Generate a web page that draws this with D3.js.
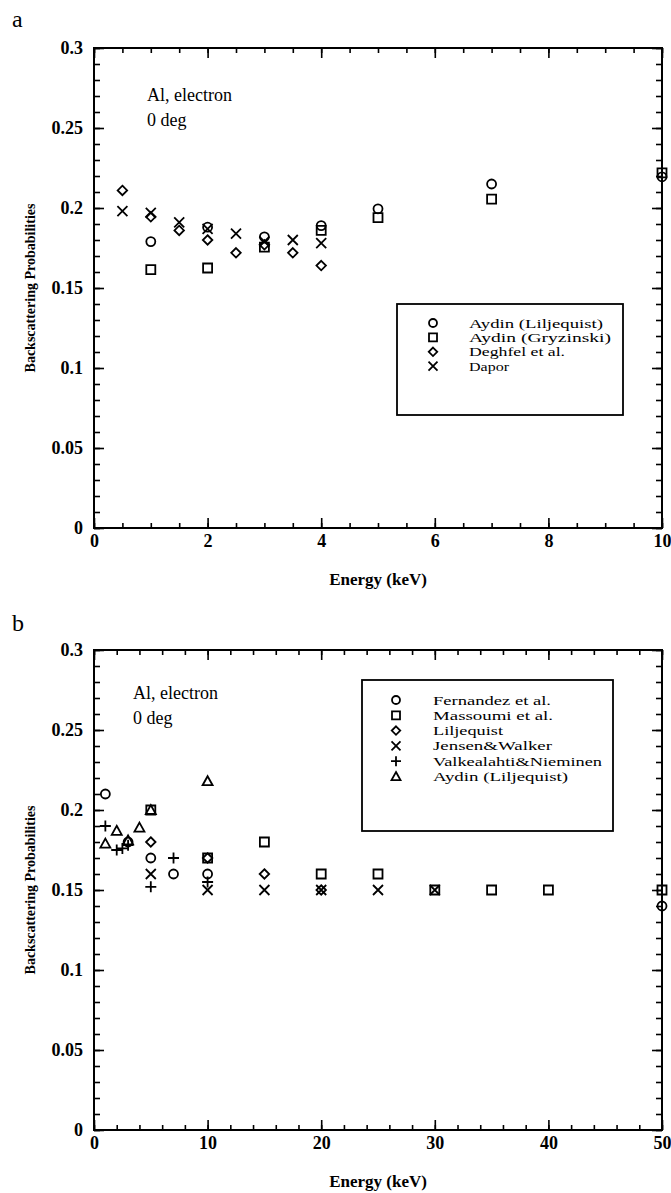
<!DOCTYPE html>
<html><head><meta charset="utf-8">
<script src="https://cdn.jsdelivr.net/npm/d3@7/dist/d3.min.js"></script>
<style>
body{margin:0;background:#fff;}
svg{display:block;}
text{font-family:"Liberation Serif","Times New Roman",serif;fill:#000;}
</style></head>
<body>
<svg id="chart" width="671" height="1193"></svg>
<script>
// ---------- Panel a data ----------
const seriesA = ["Aydin (Liljequist)", "Aydin (Gryzinski)", "Deghfel et al.", "Dapor"];
const symbolsA = ["circle", "square", "diamond", "x"];
const aydinLilE_A = [1, 2, 3, 4, 5, 7, 10];
const aydinLilV_A = [0.179, 0.188, 0.182, 0.189, 0.1995, 0.215, 0.2195];
const aydinGryE_A = [1, 2, 3, 4, 5, 7, 10];
const aydinGryV_A = [0.1615, 0.1625, 0.1755, 0.186, 0.194, 0.2055, 0.222];
const deghfelE_A = [0.5, 1, 1.5, 2, 2.5, 3, 3.5, 4];
const deghfelV_A = [0.211, 0.1945, 0.186, 0.180, 0.172, 0.177, 0.172, 0.164];
const daporE_A = [0.5, 1, 1.5, 2, 2.5, 3, 3.5, 4];
const daporV_A = [0.198, 0.197, 0.191, 0.187, 0.184, 0.179, 0.180, 0.178];
const xTicksA = [0, 2, 4, 6, 8, 10];
const yTicks = [0, 0.05, 0.1, 0.15, 0.2, 0.25, 0.3];
const yTickLabels = ["0", "0.05", "0.1", "0.15", "0.2", "0.25", "0.3"];

// ---------- Panel b data ----------
const seriesB = ["Fernandez et al.", "Massoumi et al.", "Liljequist", "Jensen&Walker", "Valkealahti&Nieminen", "Aydin (Liljequist)"];
const symbolsB = ["circle", "square", "diamond", "x", "plus", "triangle"];
const fernandezE = [1, 3, 5, 7, 10, 50];
const fernandezV = [0.21, 0.18, 0.17, 0.16, 0.16, 0.14];
const massoumiE = [5, 10, 15, 20, 25, 30, 35, 40, 50];
const massoumiV = [0.2, 0.17, 0.18, 0.16, 0.16, 0.15, 0.15, 0.15, 0.15];
const liljequistE = [5, 10, 15, 20];
const liljequistV = [0.18, 0.17, 0.16, 0.15];
const jensenE = [5, 10, 15, 20, 25, 30];
const jensenV = [0.16, 0.15, 0.15, 0.15, 0.15, 0.15];
const valkeE = [1, 2, 2.5, 3, 5, 7, 10];
const valkeV = [0.19, 0.175, 0.176, 0.178, 0.152, 0.17, 0.155];
const aydinLilE_B = [1, 2, 3, 4, 5, 10];
const aydinLilV_B = [0.179, 0.187, 0.181, 0.189, 0.2, 0.218];
const xTicksB = [0, 10, 20, 30, 40, 50];

const svg = d3.select("#chart");

function symbolPath(type, s) {
  const h = s / 2;
  switch (type) {
    case "circle": return `M${-h},0A${h},${h} 0 1,0 ${h},0A${h},${h} 0 1,0 ${-h},0Z`;
    case "square": return `M${-h},${-h}H${h}V${h}H${-h}Z`;
    case "diamond": return `M0,${-h}L${h},0L0,${h}L${-h},0Z`;
    case "x": return `M${-h},${-h}L${h},${h}M${-h},${h}L${h},${-h}`;
    case "plus": return `M${-h},0H${h}M0,${-h}V${h}`;
    case "triangle": return `M0,${-h}L${h},${h*0.8}L${-h},${h*0.8}Z`;
  }
}
const symSize = {circle: 9, square: 9, diamond: 9.5, x: 10, plus: 11, triangle: 10};

function drawPanel(cfg) {
  const {x, y, xTicks, xMinor, yMinor, letter, letterY, seriesData, legend, note} = cfg;
  const g = svg.append("g");
  const [x0, x1] = x.range();
  const [y0, y1] = y.range();

  const fmtNone = () => "";
  g.append("g").attr("transform", `translate(0,${y0})`).call(d3.axisBottom(x).tickValues(xMinor).tickSize(-5).tickFormat(fmtNone));
  g.append("g").attr("transform", `translate(0,${y1})`).call(d3.axisTop(x).tickValues(xMinor).tickSize(-5).tickFormat(fmtNone));
  g.append("g").attr("transform", `translate(${x0},0)`).call(d3.axisLeft(y).tickValues(yMinor).tickSize(-6).tickFormat(fmtNone));
  g.append("g").attr("transform", `translate(${x1},0)`).call(d3.axisRight(y).tickValues(yMinor).tickSize(-6).tickFormat(fmtNone));
  g.append("g").attr("class", "lab").attr("transform", `translate(0,${y0})`)
    .call(d3.axisBottom(x).tickValues(xTicks).tickSize(-10).tickPadding(6).tickFormat(d => String(d)));
  g.append("g").attr("transform", `translate(0,${y1})`).call(d3.axisTop(x).tickValues(xTicks).tickSize(-10).tickFormat(fmtNone));
  g.append("g").attr("class", "lab").attr("transform", `translate(${x0},0)`)
    .call(d3.axisLeft(y).tickValues(yTicks).tickSize(-10).tickPadding(11).tickFormat((d, i) => yTickLabels[i]));
  g.append("g").attr("transform", `translate(${x1},0)`).call(d3.axisRight(y).tickValues(yTicks).tickSize(-10).tickFormat(fmtNone));
  g.selectAll(".domain").remove();
  g.selectAll(".tick line").attr("stroke", "#000").attr("stroke-width", 1.6);
  g.selectAll(".lab text").attr("font-size", 18).attr("font-family", "Liberation Serif")
    .attr("font-weight", "bold").attr("fill", "#000");

  g.append("rect").attr("x", x0).attr("y", y1).attr("width", x1 - x0).attr("height", y0 - y1)
    .attr("fill", "none").attr("stroke", "#000").attr("stroke-width", 2);

  g.append("text").attr("x", (x0 + x1) / 2).attr("y", y0 + 57).attr("text-anchor", "middle")
    .attr("font-size", 17).attr("font-weight", "bold").text("Energy (keV)");
  g.append("text").attr("transform", `translate(30,${(y0 + y1) / 2}) rotate(-90)`).attr("text-anchor", "middle")
    .attr("dominant-baseline", "central").attr("font-size", 14).attr("font-weight", "bold")
    .text("Backscattering Probabilities");

  svg.append("text").attr("x", 12).attr("y", letterY).attr("font-family", "Liberation Sans, Arial, sans-serif")
    .attr("font-size", 24).text(letter);

  g.append("text").attr("x", note.x).attr("y", note.y).attr("font-size", 18).text("Al, electron");
  g.append("text").attr("x", note.x).attr("y", note.y + 25).attr("font-size", 18).text("0 deg");

  seriesData.forEach(s => {
    g.append("g").selectAll("path").data(s.E.map((e, i) => [e, s.V[i]])).join("path")
      .attr("transform", d => `translate(${x(d[0])},${y(d[1])})`)
      .attr("d", symbolPath(s.sym, symSize[s.sym]))
      .attr("fill", "none").attr("stroke", "#000").attr("stroke-width", 1.8);
  });

  const lg = g.append("g");
  lg.append("rect").attr("x", legend.x0).attr("y", legend.y0).attr("width", legend.x1 - legend.x0)
    .attr("height", legend.y1 - legend.y0).attr("fill", "#fff").attr("stroke", "#000").attr("stroke-width", 1.8);
  legend.names.forEach((n, i) => {
    const yy = legend.rowY + i * legend.dy;
    lg.append("path").attr("transform", `translate(${legend.symX},${yy})`)
      .attr("d", symbolPath(legend.syms[i], symSize[legend.syms[i]] - 1))
      .attr("fill", "none").attr("stroke", "#000").attr("stroke-width", 1.8);
    lg.append("text").attr("x", legend.textX).attr("y", yy + 4.5)
      .attr("font-size", 13.5)
      .attr("textLength", legend.widths[i]).attr("lengthAdjust", "spacingAndGlyphs")
      .text(n);
  });
}

drawPanel({
  x: d3.scaleLinear([0, 10], [94, 662]),
  y: d3.scaleLinear([0, 0.3], [528, 48]),
  xTicks: xTicksA,
  xMinor: d3.range(0, 10.001, 0.5),
  yMinor: d3.range(0, 0.3001, 0.01),
  letter: "a", letterY: 27,
  note: {x: 147, y: 101},
  seriesData: [
    {E: aydinLilE_A, V: aydinLilV_A, sym: symbolsA[0]},
    {E: aydinGryE_A, V: aydinGryV_A, sym: symbolsA[1]},
    {E: deghfelE_A, V: deghfelV_A, sym: symbolsA[2]},
    {E: daporE_A, V: daporV_A, sym: symbolsA[3]}
  ],
  legend: {x0: 397, y0: 304, x1: 623, y1: 415, symX: 433, textX: 469, rowY: 323, dy: 14.4,
           names: seriesA, syms: symbolsA, widths: [134, 142, 96, 40]}
});

drawPanel({
  x: d3.scaleLinear([0, 50], [94, 662]),
  y: d3.scaleLinear([0, 0.3], [1130, 650]),
  xTicks: xTicksB,
  xMinor: d3.range(0, 50.001, 2),
  yMinor: d3.range(0, 0.3001, 0.01),
  letter: "b", letterY: 631,
  note: {x: 133, y: 699},
  seriesData: [
    {E: fernandezE, V: fernandezV, sym: symbolsB[0]},
    {E: massoumiE, V: massoumiV, sym: symbolsB[1]},
    {E: liljequistE, V: liljequistV, sym: symbolsB[2]},
    {E: jensenE, V: jensenV, sym: symbolsB[3]},
    {E: valkeE, V: valkeV, sym: symbolsB[4]},
    {E: aydinLilE_B, V: aydinLilV_B, sym: symbolsB[5]}
  ],
  legend: {x0: 362, y0: 680, x1: 613, y1: 831, symX: 396, textX: 433, rowY: 700, dy: 15.3,
           names: seriesB, syms: symbolsB, widths: [118, 120, 70, 119, 169, 135]}
});
</script>
</body></html>
